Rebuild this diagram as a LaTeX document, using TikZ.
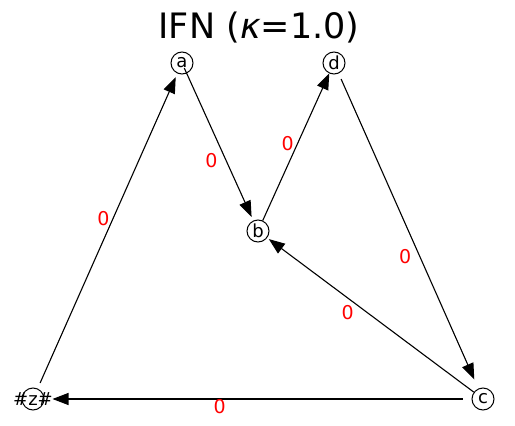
\documentclass[tikz,border=0pt]{standalone}
\usepackage{fontspec}
\setmainfont{DejaVu Sans}
\usetikzlibrary{arrows.meta}

\tikzset{
  vtx/.style={circle,draw,line width=1pt,minimum size=22pt,inner sep=0pt,font=\fontsize{18}{18}\selectfont},
  arc/.style={-{Triangle[length=16pt,width=12pt]},line width=1.1pt},
  wt/.style={text=red,inner sep=0pt,font=\fontsize{19}{19}\selectfont}
}

\begin{document}
\begin{tikzpicture}[x=1pt,y=-1pt]
        \useasboundingbox (0,0) rectangle (515,426);
        \node[anchor=base] (title) at (259,38) {\fontsize{35}{35}\selectfont IFN (\textit{κ}=1.0)};

        \node[vtx] (a) at (182,63) {a};
        \node[vtx] (d) at (334,63) {d};
        \node[vtx] (b) at (258,231) {b};
        \node[vtx] (c) at (483,399) {c};
        \node[vtx,label=center:{\fontsize{18}{18}\selectfont\#z\#}] (z) at (33,399) {};

        \draw[arc,shorten <=6pt,shorten >=4pt] (z) -- (a) node[wt,left=3pt,pos=.54] {0};
        \draw[arc,shorten <=-6pt,shorten >=4pt] (a) -- (b) node[wt,left=8pt,pos=.59] {0};
        \draw[arc,shorten >=0pt] (b) -- (d) node[wt,left=3pt,pos=.52] {0};
        \draw[arc,shorten <=6pt,shorten >=10pt] (d) -- (c) node[wt,left=8pt,pos=.58] {0};
        \draw[arc,shorten >=2pt] (c) -- (b) node[wt,below=7pt,pos=.61] {0};
        \draw[arc,shorten <=9pt,shorten >=8pt] (c) -- (z) node[wt,below=0pt,pos=.59] {0};
\end{tikzpicture}
\end{document}
